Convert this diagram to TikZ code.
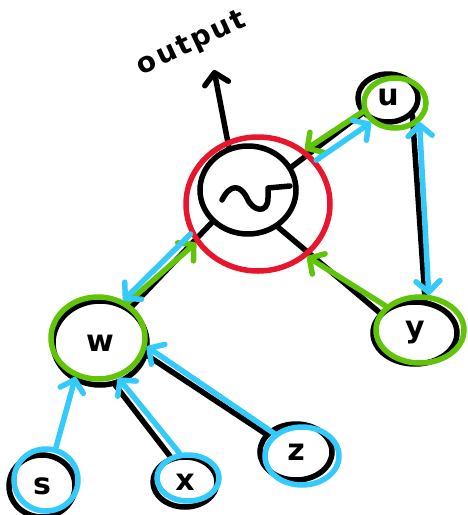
\documentclass[tikz,border=0pt]{standalone}
\usepackage{fontspec}
\setmainfont{DejaVu Sans}
\usetikzlibrary{shapes.geometric,arrows.meta}
\definecolor{hotred}{RGB}{232,22,44}
\definecolor{leaf}{RGB}{96,196,8}
\definecolor{sky}{RGB}{52,202,252}
\tikzset{
  ring/.style={ellipse, draw, line width=5.5pt, inner sep=0pt,
    font=\bfseries\fontsize{30}{30}\selectfont},
  inkring/.style={ring, draw=black},
  redring/.style={ring, draw=hotred},
  greenring/.style={ring, draw=leaf},
  bluering/.style={ring, draw=sky},
  stroke/.style={line width=5.5pt, line cap=round, line join=round},
  inkline/.style={stroke, draw=black},
  tipped/.style={-{Straight Barb[round,length=11pt,width=24pt]}},
  twotipped/.style={{Straight Barb[round,length=11pt,width=24pt]}-{Straight Barb[round,length=11pt,width=24pt]}},
  greenarrow/.style={stroke, draw=leaf, tipped},
  bluearrow/.style={stroke, draw=sky, tipped},
}
\begin{document}
\begin{tikzpicture}[x=1pt, y=-1pt]
  \path[use as bounding box] (0,0) rectangle (467,515);

  % black outlines of the units
  \node[inkring, minimum width=96, minimum height=88] (c) at (248,190) {};
  \node[inkring, minimum width=60, minimum height=48] (u) at (388,98) {u};
  \node[inkring, minimum width=84, minimum height=62] (y) at (415,333) {y};
  \node[inkring, minimum width=94, minimum height=84] (w) at (100,343) {w};
  \node[inkring, minimum width=66, minimum height=62] (s) at (42,486) {s};
  \node[inkring, minimum width=64, minimum height=50] (x) at (185,482) {x};
  \node[inkring, minimum width=72, minimum height=56] (z) at (296,452) {z};

  % squiggle inside the central unit
  \draw[inkline] (222,200) .. controls (230,184) and (240,184) .. (247,198)
    .. controls (253,212) and (268,214) .. (268,198) -- (268,188) -- (290,186);

  % black connections
  \coordinate (out) at (214,70);
  \draw[inkline, tipped] (c.114) -- (out);
  \draw[inkline] (c.28) -- (u.211);
  \draw[inkline] (c.309) -- (y.150);
  \draw[inkline] (c.222) -- (w.49);
  \draw[inkline] (u.324) -- (y.73);
  \draw[inkline] (x.120) -- (w.290);
  \draw[inkline] (z.149) -- (w.345);

  \node[font=\bfseries\fontsize{28}{28}\selectfont\addfontfeatures{LetterSpace=8}, rotate=25] (lbl) at (192,44) {output};

  % coloured rings
  \node[redring, minimum width=144, minimum height=134] (cr) at (258,204) {};
  \node[greenring, minimum width=62, minimum height=50] (ug) at (395,103) {};
  \node[greenring, minimum width=88, minimum height=66] (yg) at (420,330) {};
  \node[greenring, minimum width=94, minimum height=82] (wg) at (98,338) {};
  \node[bluering, minimum width=64, minimum height=62] (sg) at (46,480) {};
  \node[bluering, minimum width=62, minimum height=46] (xg) at (188,478) {};
  \node[bluering, minimum width=74, minimum height=58] (zg) at (302,456) {};

  % coloured arrows
  \draw[greenarrow] (ug.195) -- (cr.49);
  \draw[bluearrow] (cr.37) -- (ug.219);
  \draw[greenarrow] (yg.145) -- (cr.313);
  \draw[greenarrow] (wg.50) -- (cr.212);
  \draw[bluearrow] (cr.204) -- (wg.56);
  \draw[stroke, draw=sky, twotipped] (ug.322) -- (yg.76);
  \draw[bluearrow] (sg.73) -- (wg.240);
  \draw[bluearrow] (xg.109) -- (wg.297);
  \draw[bluearrow] (zg.141) -- (wg.350);
\end{tikzpicture}
\end{document}
